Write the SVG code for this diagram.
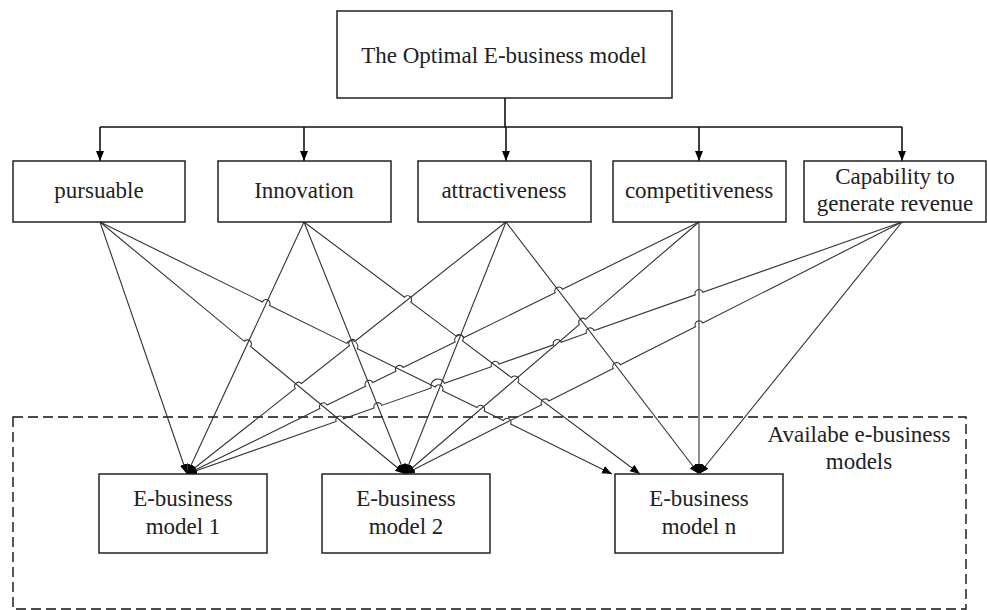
<svg xmlns="http://www.w3.org/2000/svg" width="987" height="610" viewBox="0 0 987 610">
<style>
.box{fill:#fff;stroke:#222;stroke-width:1.5}
.t{font-family:"Liberation Serif",serif;font-size:23px;fill:#222;text-anchor:middle}
.c{fill:none;stroke:#333;stroke-width:1.1}
.bus{fill:none;stroke:#111;stroke-width:1.6}
</style>
<defs>
<marker id="ah" markerUnits="userSpaceOnUse" markerWidth="11" markerHeight="9" refX="10" refY="4" orient="auto" viewBox="0 0 11 9">
<path d="M0,0 L10,4 L0,8 z" fill="#000"/>
</marker>
</defs>
<rect x="0" y="0" width="987" height="610" fill="#fff"/>
<rect x="13" y="417" width="953" height="192" fill="none" stroke="#111" stroke-width="1.4" stroke-dasharray="10,5"/>
<text class="t" x="859" y="442">Availabe e-business</text>
<text class="t" x="859" y="469">models</text>
<g id="connectors">
<path class="bus" d="M505,98 L505,127 M100,127 L902,127"/>
<path class="bus" d="M100,127 L100,161" marker-end="url(#ah)"/>
<path class="bus" d="M304,127 L304,161" marker-end="url(#ah)"/>
<path class="bus" d="M506,127 L506,161" marker-end="url(#ah)"/>
<path class="bus" d="M699,127 L699,161" marker-end="url(#ah)"/>
<path class="bus" d="M902,127 L902,161" marker-end="url(#ah)"/>
<path class="c" d="M100,222 L187,474" marker-end="url(#ah)"/>
<path class="c" d="M100,222 L244.3,341.3 A4,4 0 0 1 250.5,346.4 L405,474" marker-end="url(#ah)"/>
<path class="c" d="M100,222 L262.4,301.9 A4,4 0 0 1 269.6,305.5 L346.7,343.4 A6,6 0 0 1 357.4,348.7 L435.3,387.1 A4,4 0 0 1 442.5,390.7 L477,407.5 A4,4 0 0 1 484.2,411.1 L503.4,420.5 A4,4 0 0 1 510.6,424.1 L612,474" marker-end="url(#ah)"/>
<path class="c" d="M304,222 L187,474" marker-end="url(#ah)"/>
<path class="c" d="M304,222 L405,474" marker-end="url(#ah)"/>
<path class="c" d="M304,222 L404.4,297.3 A4,4 0 0 1 410.8,302.1 L456.1,336.1 A4,4 0 0 1 462.5,340.9 L511.5,377.6 A4,4 0 0 1 517.9,382.4 L640,474" marker-end="url(#ah)"/>
<path class="c" d="M506,222 L355.7,340.7 A4,4 0 0 0 349.5,345.7 L301.5,383.5 A4,4 0 0 0 295.3,388.5 L187,474" marker-end="url(#ah)"/>
<path class="c" d="M506,222 L405,474" marker-end="url(#ah)"/>
<path class="c" d="M506,222 L699,474" marker-end="url(#ah)"/>
<path class="c" d="M699,222 L562.4,289.2 A4,4 0 0 0 555.2,292.8 L464,337.6 A5,5 0 0 0 455.1,342.1 L403.1,367.6 A4,4 0 0 0 395.9,371.2 L372.7,382.6 A4,4 0 0 0 365.5,386.2 L327.1,405 A4,4 0 0 0 319.9,408.6 L187,474" marker-end="url(#ah)"/>
<path class="c" d="M699,222 L585.5,319.3 A4,4 0 0 0 579.5,324.5 L405,474" marker-end="url(#ah)"/>
<path class="c" d="M699,222 L699,474" marker-end="url(#ah)"/>
<path class="c" d="M902,222 L702.8,292.2 A4,4 0 0 0 695.2,294.8 L594,330.6 A4,4 0 0 0 586.4,333.2 L561.1,342.2 A4,4 0 0 0 553.5,344.8 L499,364.1 A4,4 0 0 0 491.4,366.7 L444.4,383.3 A7,7 0 0 0 431.2,387.9 L381.7,405.4 A4,4 0 0 0 374.1,408 L343.7,418.8 A4,4 0 0 0 336.1,421.4 L187,474" marker-end="url(#ah)"/>
<path class="c" d="M902,222 L702.7,323.1 A4,4 0 0 0 695.5,326.7 L620.4,364.8 A4,4 0 0 0 613.2,368.4 L548.8,401.1 A4,4 0 0 0 541.6,404.7 L405,474" marker-end="url(#ah)"/>
<path class="c" d="M902,222 L699,474" marker-end="url(#ah)"/>
</g>
<g id="optimal">
<rect class="box" x="337" y="11" width="335" height="87"/>
<text class="t" x="504" y="63">The Optimal E-business model</text>
</g>
<g id="pursuable">
<rect class="box" x="13" y="161" width="172" height="61"/>
<text class="t" x="99" y="198">pursuable</text>
</g>
<g id="innovation">
<rect class="box" x="218" y="161" width="173" height="61"/>
<text class="t" x="304" y="198">Innovation</text>
</g>
<g id="attractiveness">
<rect class="box" x="418" y="161" width="173" height="61"/>
<text class="t" x="504" y="198">attractiveness</text>
</g>
<g id="competitiveness">
<rect class="box" x="613" y="161" width="173" height="61"/>
<text class="t" x="699" y="198">competitiveness</text>
</g>
<g id="capability">
<rect class="box" x="804" y="161" width="182" height="61"/>
<text class="t" x="895" y="184">Capability to</text>
<text class="t" x="895" y="211">generate revenue</text>
</g>
<g id="model1">
<rect class="box" x="99" y="474" width="168" height="79"/>
<text class="t" x="183" y="506">E-business</text>
<text class="t" x="183" y="534">model 1</text>
</g>
<g id="model2">
<rect class="box" x="322" y="474" width="168" height="79"/>
<text class="t" x="406" y="506">E-business</text>
<text class="t" x="406" y="534">model 2</text>
</g>
<g id="modeln">
<rect class="box" x="615" y="474" width="168" height="79"/>
<text class="t" x="699" y="506">E-business</text>
<text class="t" x="699" y="534">model n</text>
</g>
</svg>
